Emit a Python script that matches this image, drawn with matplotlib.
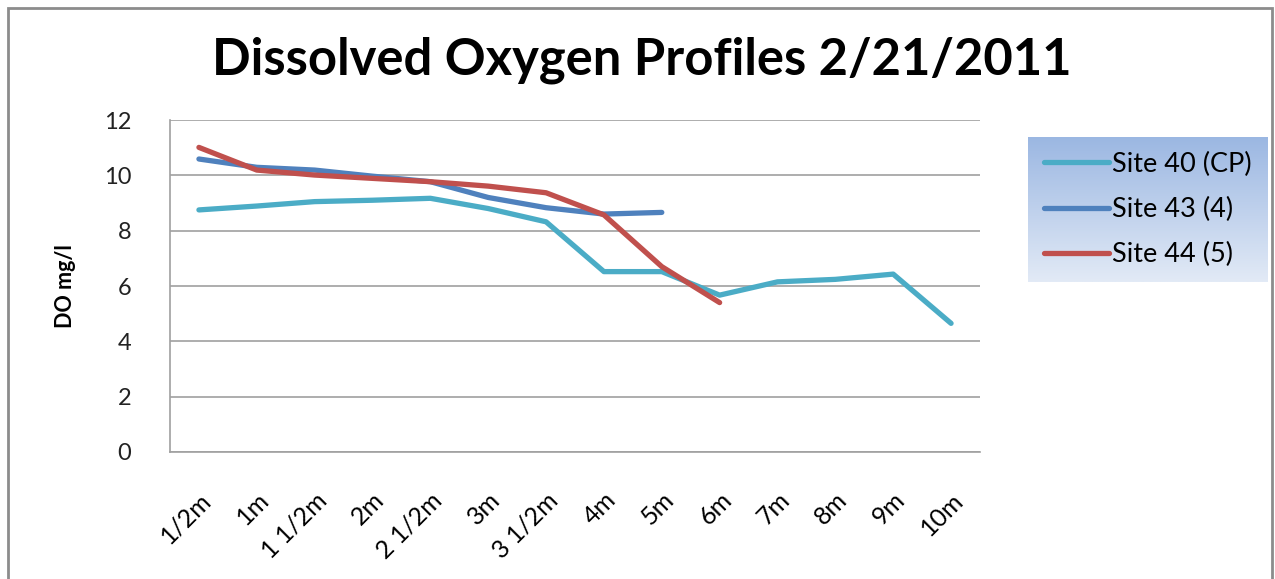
import numpy as np
import matplotlib.pyplot as plt
from matplotlib.patches import Rectangle

plt.rcParams['font.family'] = ['Lato', 'DejaVu Sans']

depths = ["1/2m", "1m", "1 1/2m", "2m", "2 1/2m", "3m", "3 1/2m",
          "4m", "5m", "6m", "7m", "8m", "9m", "10m"]
site40 = [8.75, 8.89, 9.05, 9.1, 9.17, 8.8, 8.32, 6.52, 6.52,
          5.67, 6.15, 6.24, 6.43, 4.65]
site43 = [10.59, 10.29, 10.19, 9.97, 9.77, 9.2, 8.83, 8.6, 8.66]
site44 = [11.01, 10.19, 10.01, 9.89, 9.77, 9.61, 9.37, 8.57, 6.7, 5.4]

fig = plt.figure(figsize=(12.75, 5.79), dpi=100)
ax = fig.add_axes([170/1275, 1-452/579, 810/1275, 332/579])

x = np.arange(len(depths))
l40, = ax.plot(x, site40, color='#4bacc6', lw=3.8, solid_capstyle='round', label='Site 40 (CP)')
l43, = ax.plot(x[:len(site43)], site43, color='#4f81bd', lw=3.8, solid_capstyle='round', label='Site 43 (4)')
l44, = ax.plot(x[:len(site44)], site44, color='#c0504d', lw=3.8, solid_capstyle='round', label='Site 44 (5)')

ax.set_xlim(-0.5, len(depths) - 0.5)
ax.set_ylim(0, 12)
ax.set_yticks(range(0, 13, 2))
ax.set_xticks(x)
ax.set_xticklabels(depths, rotation=45, ha='right', rotation_mode='anchor', fontsize=18)
ax.tick_params(axis='y', labelsize=17, length=0, pad=28, labelcolor='#222222')
ax.tick_params(axis='x', length=0, pad=26)
ax.grid(axis='y', color='#a0a0a0', lw=1.2)
ax.set_axisbelow(True)
for s in ['top', 'right']:
    ax.spines[s].set_visible(False)
for s in ['left', 'bottom']:
    ax.spines[s].set_color('#a0a0a0')
    ax.spines[s].set_linewidth(1.2)
ax.set_ylabel("DO mg/l", fontsize=15.5, fontweight='bold', labelpad=20)

fig.text(0.503, 1-60/579, "Dissolved Oxygen Profiles 2/21/2011", ha='center', va='center',
         fontsize=36.5, fontweight='bold')

# legend with gradient background
lax = fig.add_axes([1028/1275, 1-282/579, 240/1275, 145/579])
grad = np.linspace(0, 1, 100).reshape(-1, 1)
top = np.array([0x9b, 0xb7, 0xe2]) / 255
bot = np.array([0xe2, 0xea, 0xf6]) / 255
img = top + (bot - top) * grad[:, :, None]
lax.imshow(img, aspect='auto', extent=[0, 1, 0, 1])
lax.set_axis_off()
lax.legend(handles=[l40, l43, l44], loc='center left', frameon=False, fontsize=19.5,
           handlelength=2.4, handletextpad=0.1, labelspacing=0.75, borderaxespad=0.2)

# outer chart border
fig.patches.append(Rectangle((8/1275, -0.1), 1264/1275, 1.1 - 8/579, transform=fig.transFigure,
                             fill=False, edgecolor='#8c8c8c', lw=2))

fig.savefig('out.png', dpi=100)
